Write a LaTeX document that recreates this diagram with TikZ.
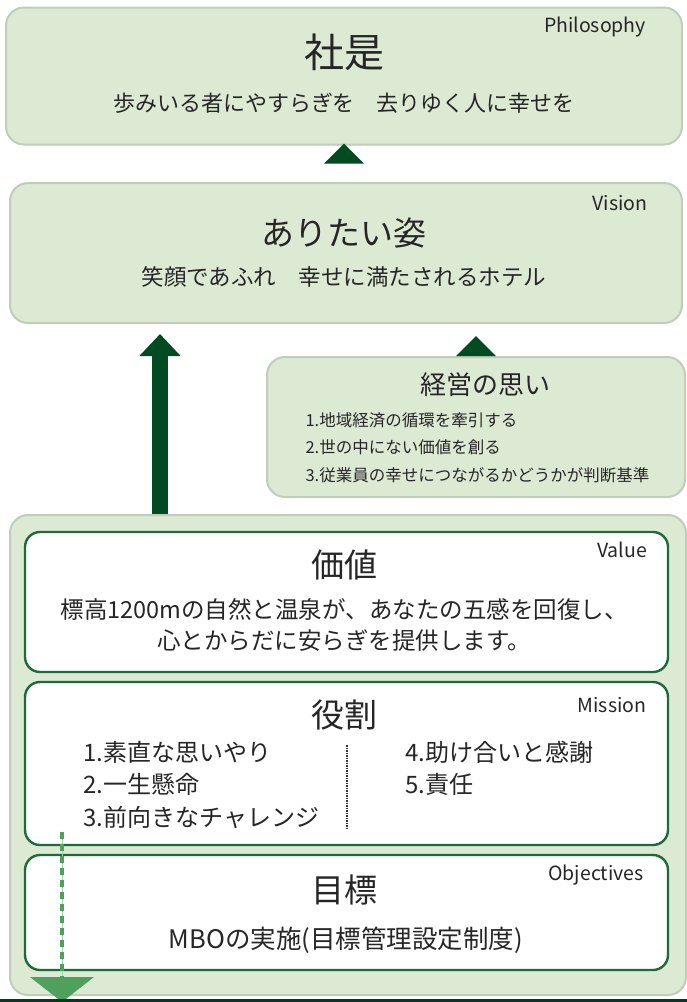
\documentclass[tikz,border=0pt]{standalone}
\usepackage{fontspec}
\setmainfont{Noto Sans CJK JP}
\usetikzlibrary{arrows.meta}
\definecolor{palegreen}{HTML}{DCEAD4}
\definecolor{paleedge}{HTML}{BFCDB9}
\definecolor{darkgreen}{HTML}{004B22}
\definecolor{boxedge}{HTML}{1F6A38}
\definecolor{dashgreen}{HTML}{4FA05D}
\tikzset{panel/.style={draw=paleedge,line width=2pt,fill=palegreen,rounded corners=18pt},
         card/.style={draw=boxedge,line width=2.4pt,fill=white,rounded corners=15pt},
         tag/.style={font=\fontsize{19.5}{22}\selectfont,text=black!85},
         head/.style={font=\fontsize{33}{38}\selectfont,text=black!85},
         body/.style={font=\fontsize{22.5}{27}\selectfont,text=black!85},
         item/.style={font=\fontsize{24}{28}\selectfont,text=black!85,anchor=west},
         goal/.style={font=\fontsize{16.5}{20}\selectfont,text=black!85,anchor=west},
         line/.style={darkgreen,line width=16pt,-{Triangle[width=40pt,length=22pt]}}
}

\begin{document}
\begin{tikzpicture}[x=1pt,y=-1pt]
  \useasboundingbox (0,0) rectangle (687,1002);
  % top boxes
  \node[panel,minimum width=676pt,minimum height=137pt] (phil) at (344,76) {};
  \node[panel,minimum width=672pt,minimum height=140pt] (vision) at (346,253) {};
  \node[panel,minimum width=418pt,minimum height=140pt] (omoi) at (476,427) {};
  \node[panel,minimum width=676pt,minimum height=480pt] (base) at (348,755) {};
  % white cards
  \node[card,minimum width=643pt,minimum height=140pt] (value) at (346.5,602) {};
  \node[card,minimum width=643pt,minimum height=163pt] (mission) at (346.5,763.5) {};
  \node[card,minimum width=643pt,minimum height=115pt] (obj) at (346.5,912.5) {};

  % texts
  \node[tag] (philtag) at (595,27) {Philosophy};
  \node[head,font=\fontsize{40}{44}\selectfont] (philhead) at (344,52) {社是};
  \node[body,font=\fontsize{22}{26}\selectfont] (philbody) at (344,103) {歩みいる者にやすらぎを　去りゆく人に幸せを};
  \node[tag] (vistag) at (620,203) {Vision};
  \node[head] (vishead) at (344,233) {ありたい姿};
  \node[body] (visbody) at (344,277) {笑顔であふれ　幸せに満たされるホテル};
  \node[head,font=\fontsize{26}{30}\selectfont] (omoihead) at (485,385) {経営の思い};
  \node[goal] (omoi1) at (302,420) {1.地域経済の循環を牽引する};
  \node[goal] (omoi2) at (302,447) {2.世の中にない価値を創る};
  \node[goal] (omoi3) at (302,475) {3.従業員の幸せにつながるかどうかが判断基準};
  \node[tag] (valtag) at (622,550) {Value};
  \node[head] (valhead) at (344,565) {価値};
  \node[body,font=\fontsize{23.5}{31}\selectfont,align=center] (valbody) at (344,625) {標高1200mの自然と温泉が、あなたの五感を回復し、\\心とからだに安らぎを提供します。};
  \node[tag] (mistag) at (612,705) {Mission};
  \node[head] (mishead) at (344,715) {役割};
  \node[item] (mis1) at (80,752) {1.素直な思いやり};
  \node[item] (mis2) at (80,784) {2.一生懸命};
  \node[item] (mis3) at (80,817) {3.前向きなチャレンジ};
  \node[item] (mis4) at (402,752) {4.助け合いと感謝};
  \node[item] (mis5) at (402,784) {5.責任};
  \node[tag] (objtag) at (596,875) {Objectives};
  \node[head] (objhead) at (344,890) {目標};
  \node[body,font=\fontsize{25.5}{30}\selectfont] (objbody) at (346,940) {MBOの実施(目標管理設定制度)};

  \coordinate (divtop) at (347,745);
  \coordinate (divbot) at (347,828);
  \draw[black!80,line width=1.3pt,dash pattern=on 1.5pt off 1pt] (divtop) -- (divbot);

  % arrows
  \draw[line] (base.north -| 160,0) -- ([yshift=-10pt]vision.south -| 160,0);
  \fill[darkgreen] ([xshift=-20pt]omoi.north) -- ([xshift=20pt]omoi.north) -- ([yshift=20pt]omoi.north) -- cycle;
  \fill[darkgreen] ([xshift=-20pt,yshift=-18pt]phil.south) -- ([xshift=20pt,yshift=-18pt]phil.south) -- ([yshift=2pt]phil.south) -- cycle;

  % bottom
  \coordinate (dashtop) at (62,832);
  \coordinate (dashbot) at (62,977);
  \coordinate (floorl) at (0,1000.5);
  \coordinate (floorr) at (687,1000.5);
  \draw[dashgreen!50,line width=0.8pt] (dashtop) -- (dashbot);
  \draw[dashgreen,line width=4pt,dash pattern=on 7pt off 5pt] (dashtop) -- (dashbot);
  \fill[dashgreen] ([xshift=-32pt]dashbot) -- ([xshift=32pt]dashbot) -- (62,1002) -- cycle;
  \draw[darkgreen!80!black,line width=3pt] (floorl) -- (floorr);
\end{tikzpicture}
\end{document}
